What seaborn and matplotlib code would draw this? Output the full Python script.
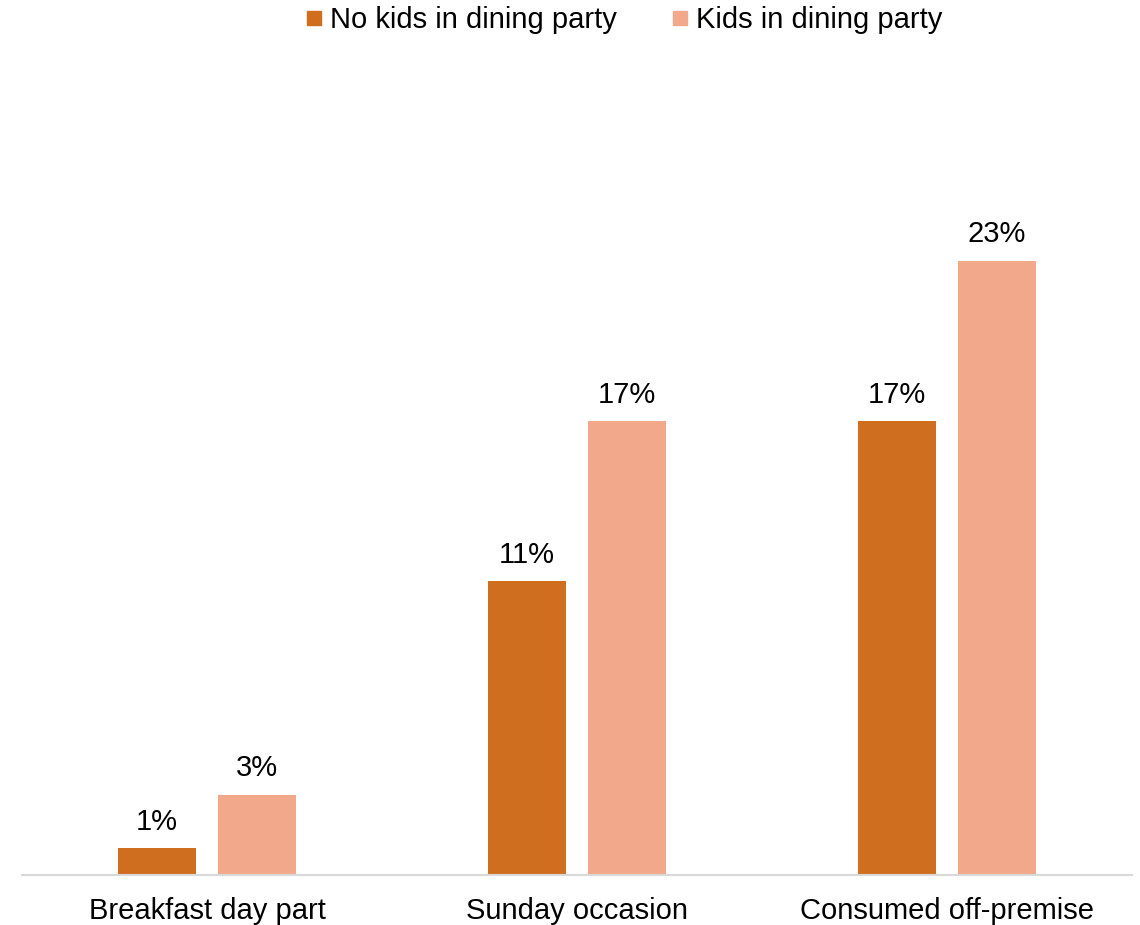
import matplotlib
matplotlib.use("Agg")
import matplotlib.pyplot as plt
import seaborn as sns
import pandas as pd
from matplotlib.lines import Line2D

categories = ["Breakfast day part", "Sunday occasion", "Consumed off-premise"]
series_names = ["No kids in dining party", "Kids in dining party"]
no_kids = [1, 11, 17]
kids = [3, 17, 23]
colors = ["#D06E1F", "#F2A88A"]

df = pd.DataFrame({
    "category": categories * 2,
    "series": [series_names[0]] * 3 + [series_names[1]] * 3,
    "value": no_kids + kids,
})

sns.set_theme(style="white")
plt.rcParams["font.family"] = ["Liberation Sans", "DejaVu Sans"]

fig = plt.figure(figsize=(11.4, 9.25), dpi=100)
ax_left, ax_right = 22 / 1140, 1132 / 1140
base_y = 875
ymax = 30
px_per = 26.7
top_y = base_y - ymax * px_per
ax = fig.add_axes([ax_left, 1 - base_y / 925, ax_right - ax_left, (base_y - top_y) / 925])

sns.barplot(data=df, x="category", y="value", hue="series", order=categories,
            hue_order=series_names, palette=colors, width=0.538, gap=0.216,
            saturation=1, linewidth=0, ax=ax, legend=False)

ax.set_ylim(0, ymax)
ax.set_xlim(-0.5, 2.5)
for c in ax.containers:
    ax.bar_label(c, labels=[f"{v:.0f}%" for v in c.datavalues], padding=9, fontsize=21, color="black")

ax.set_xlabel("")
ax.set_ylabel("")
ax.set_yticks([])
ax.tick_params(axis="x", labelsize=21, colors="black", pad=16, length=0)
for s in ["top", "right", "left"]:
    ax.spines[s].set_visible(False)
ax.spines["bottom"].set_color("#D9D9D9")
ax.spines["bottom"].set_linewidth(1.5)

handles = [Line2D([0], [0], marker="s", linestyle="", markersize=9.5,
                  markerfacecolor=col, markeredgecolor=col) for col in colors]
fig.legend(handles, series_names, loc="center", bbox_to_anchor=(0.5465, 1 - 20 / 925),
           ncol=2, frameon=False, fontsize=21, handletextpad=0.2, columnspacing=1.8,
           handlelength=0.7, labelcolor="black")

fig.savefig("out.png", dpi=100)
